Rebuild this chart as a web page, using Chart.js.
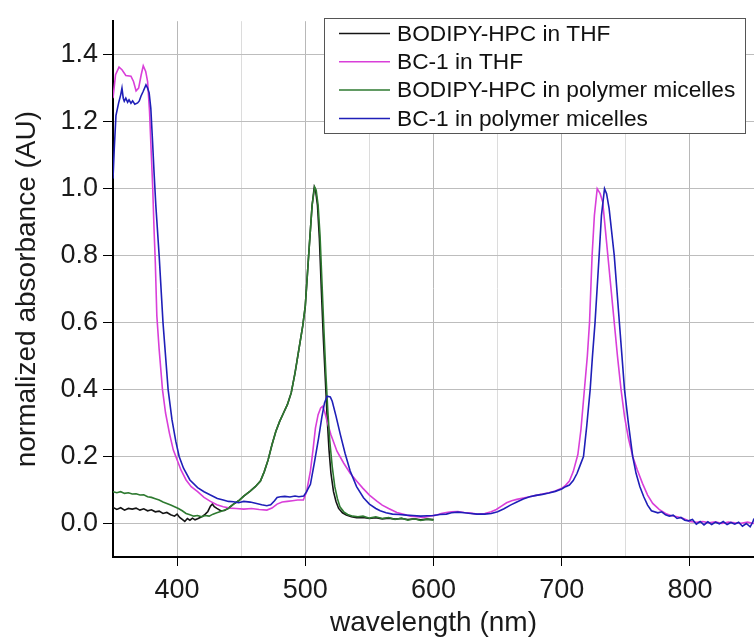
<!DOCTYPE html>
<html>
<head>
<meta charset="utf-8">
<script src="https://cdn.jsdelivr.net/npm/chart.js@4"></script>
<style>
  body { margin: 0; background: #fff; }
  canvas { display: block; }
</style>
</head>
<body>
<canvas id="spectra" width="754" height="639"></canvas>
<script>
// [wavelength nm, normalized absorbance]
const hpcThf = [
  [350, 0.048], [353, 0.042], [356, 0.047], [359, 0.040], [362, 0.045], [365, 0.043], [368, 0.046],
  [371, 0.040], [374, 0.044], [377, 0.038], [380, 0.041], [383, 0.035], [386, 0.037], [389, 0.030],
  [392, 0.033], [395, 0.026], [398, 0.022], [400, 0.028], [402, 0.018], [404, 0.012], [406, 0.006],
  [408, 0.015], [410, 0.010], [412, 0.016], [414, 0.011], [416, 0.014], [418, 0.018], [420, 0.022],
  [422, 0.028], [424, 0.036], [426, 0.052], [427.5, 0.058], [429, 0.050], [431, 0.045], [434, 0.038],
  [437, 0.039], [440, 0.046], [444, 0.058], [448, 0.068], [452, 0.082], [457, 0.097], [461, 0.110],
  [465, 0.127], [468, 0.155], [471, 0.190], [474, 0.235], [477, 0.275], [480, 0.305], [483, 0.330],
  [486, 0.355], [489, 0.390], [492, 0.450], [495, 0.520], [498, 0.590], [500, 0.650], [502.6, 0.800],
  [505.3, 0.950], [507, 1.005], [508, 0.995], [509.5, 0.950], [511, 0.850], [512.5, 0.700],
  [514, 0.560], [515.5, 0.440], [517, 0.320], [518.5, 0.220], [520, 0.150], [522, 0.095],
  [524, 0.065], [526, 0.045], [529, 0.032], [532, 0.025], [536, 0.020], [540, 0.017], [545, 0.018],
  [550, 0.015], [555, 0.017], [560, 0.014], [565, 0.016], [570, 0.013], [575, 0.015], [580, 0.012],
  [585, 0.014], [590, 0.011], [595, 0.013], [600, 0.012]
];

const bc1Thf = [
  [350, 1.270], [352, 1.340], [354.7, 1.363], [357, 1.355], [360, 1.338], [364, 1.336], [366, 1.320],
  [368, 1.292], [370, 1.300], [372, 1.340], [373.6, 1.367], [375.5, 1.350], [377, 1.320],
  [378.5, 1.230], [379.5, 1.137], [381, 1.000], [382, 0.880], [383, 0.780], [384.2, 0.620],
  [386, 0.520], [388.6, 0.400], [391, 0.330], [394, 0.270], [397, 0.220], [399, 0.200], [403, 0.160],
  [407, 0.130], [411, 0.110], [416, 0.095], [421, 0.078], [426, 0.066], [431, 0.056], [436, 0.050],
  [441, 0.046], [446, 0.045], [452, 0.043], [458, 0.045], [464, 0.042], [470, 0.040], [474, 0.046],
  [478, 0.058], [482, 0.064], [486, 0.066], [490, 0.068], [494, 0.070], [498.5, 0.070], [501, 0.095],
  [504, 0.157], [506, 0.220], [507.9, 0.285], [510, 0.325], [512, 0.345], [513.5, 0.350],
  [515, 0.335], [517, 0.305], [520, 0.265], [524.7, 0.216], [530, 0.180], [535, 0.150], [540, 0.127],
  [545, 0.105], [550, 0.085], [555.8, 0.067], [560, 0.055], [565, 0.045], [571.4, 0.033],
  [576, 0.028], [582, 0.022], [587, 0.020], [592, 0.018], [597, 0.022], [602, 0.025], [606, 0.030],
  [610, 0.033], [614, 0.035], [619, 0.036], [624, 0.033], [629, 0.031], [634, 0.028], [640, 0.030],
  [645, 0.035], [649, 0.042], [653, 0.052], [657, 0.062], [661, 0.068], [665, 0.072], [670, 0.076],
  [675, 0.080], [680, 0.084], [685, 0.088], [690, 0.092], [695, 0.097], [700, 0.105], [703, 0.114],
  [706, 0.127], [709, 0.155], [712.6, 0.206], [715, 0.280], [717.8, 0.404], [720, 0.500],
  [721.7, 0.600], [723.7, 0.800], [725.5, 0.920], [727.7, 1.000], [730, 0.985], [732, 0.960],
  [734, 0.880], [736, 0.800], [738.5, 0.700], [741, 0.600], [743.5, 0.500], [746.3, 0.400],
  [749, 0.320], [752, 0.255], [755.4, 0.200], [759, 0.160], [763, 0.120], [767, 0.085],
  [771, 0.060], [776, 0.042], [781, 0.030], [785, 0.024], [790, 0.020], [795, 0.015], [800, 0.006],
  [805, 0.004], [810, 0.006], [815, 0.002], [820, 0.005], [825, 0.000], [830, 0.004], [835, 0.002],
  [840, 0.001], [845, 0.004], [850, 0.000]
];

const hpcMicelles = [
  [350, 0.095], [353, 0.092], [356, 0.095], [359, 0.090], [362, 0.092], [365, 0.088], [368, 0.089],
  [371, 0.085], [374, 0.086], [377, 0.080], [380, 0.078], [383, 0.074], [386, 0.070], [389, 0.064],
  [392, 0.060], [395, 0.055], [398, 0.050], [401, 0.045], [404, 0.038], [407, 0.030], [410, 0.026],
  [413, 0.022], [416, 0.024], [419, 0.020], [422, 0.024], [425, 0.022], [428, 0.028], [431, 0.032],
  [434, 0.036], [437, 0.040], [440, 0.045], [444, 0.058], [448, 0.068], [452, 0.082], [457, 0.097],
  [461, 0.110], [465, 0.127], [468, 0.155], [471, 0.190], [474, 0.235], [477, 0.275], [480, 0.305],
  [483, 0.330], [486, 0.355], [489, 0.390], [492, 0.450], [495, 0.520], [498, 0.590], [500, 0.650],
  [502.6, 0.800], [505.3, 0.950], [507.3, 1.005], [508.5, 0.995], [510, 0.950], [511.5, 0.860],
  [513, 0.720], [514.5, 0.580], [516, 0.450], [517.5, 0.340], [519, 0.250], [521, 0.170],
  [523, 0.110], [525, 0.075], [527, 0.050], [530, 0.035], [533, 0.027], [537, 0.022], [541, 0.020],
  [545, 0.022], [550, 0.016], [555, 0.020], [560, 0.015], [565, 0.018], [570, 0.012], [575, 0.016],
  [580, 0.010], [585, 0.014], [590, 0.009], [595, 0.013], [600, 0.010]
];

const bc1Micelles = [
  [350, 1.030], [351, 1.120], [352.3, 1.218], [354.4, 1.256], [356, 1.280], [357, 1.300],
  [358, 1.270], [358.8, 1.261], [360, 1.270], [361.4, 1.258], [362.5, 1.265], [364, 1.255],
  [365.3, 1.262], [367, 1.252], [369.2, 1.256], [370.5, 1.262], [371.8, 1.276], [373.5, 1.290],
  [375.7, 1.310], [377, 1.300], [378.2, 1.286], [379.5, 1.240], [380.9, 1.137], [382, 1.050],
  [383.4, 0.950], [386, 0.800], [389, 0.600], [393, 0.400], [396, 0.310], [399, 0.245],
  [401.6, 0.200], [405, 0.165], [410, 0.130], [416, 0.107], [421, 0.095], [426, 0.085],
  [431.4, 0.075], [436, 0.070], [440, 0.066], [444, 0.065], [448, 0.062], [452, 0.066], [457, 0.064],
  [462, 0.060], [466, 0.056], [470, 0.053], [473, 0.056], [476, 0.068], [478, 0.078], [480.6, 0.080],
  [484, 0.081], [488, 0.079], [492, 0.082], [495, 0.080], [498.8, 0.082], [501, 0.095], [504, 0.117],
  [507, 0.180], [510.4, 0.256], [513, 0.320], [515, 0.360], [517, 0.380], [519.5, 0.378],
  [521, 0.365], [524, 0.320], [527.3, 0.266], [531, 0.210], [535, 0.157], [540, 0.110],
  [545.4, 0.077], [550, 0.058], [555, 0.045], [558.4, 0.038], [563, 0.032], [568, 0.028],
  [573, 0.027], [579, 0.025], [584, 0.024], [590, 0.022], [595, 0.023], [600, 0.024], [605, 0.027],
  [610, 0.028], [614, 0.032], [619, 0.034], [624, 0.032], [629, 0.030], [634, 0.028], [640, 0.028],
  [645, 0.030], [650, 0.035], [655, 0.044], [660, 0.055], [665, 0.064], [670, 0.073], [675, 0.080],
  [680, 0.084], [685, 0.087], [690, 0.091], [695, 0.096], [700, 0.103], [703, 0.110], [706, 0.115],
  [709, 0.128], [712, 0.150], [714.5, 0.175], [717, 0.200], [719.5, 0.290], [722.2, 0.400],
  [724, 0.500], [726, 0.600], [729.2, 0.800], [731, 0.920], [733.4, 1.000], [735, 0.985],
  [737, 0.940], [739, 0.870], [741, 0.800], [743, 0.700], [745, 0.600], [747, 0.500], [749, 0.400],
  [752, 0.300], [755.4, 0.200], [758, 0.150], [761, 0.110], [764, 0.080], [767, 0.055], [770, 0.038],
  [775, 0.032], [778, 0.035], [781, 0.026], [784, 0.022], [787, 0.025], [790, 0.015], [793, 0.018],
  [796, 0.010], [799, 0.008], [802, 0.012], [805, -0.002], [808, 0.006], [811, -0.004], [814, 0.005],
  [817, -0.003], [820, 0.004], [823, -0.001], [826, 0.006], [829, -0.003], [832, 0.003],
  [835, -0.002], [838, 0.004], [841, -0.008], [844, 0.000], [847, -0.010], [849, 0.004], [850, 0.015]
];

const seriesNames = ['BODIPY-HPC in THF', 'BC-1 in THF', 'BODIPY-HPC in polymer micelles', 'BC-1 in polymer micelles'];
const seriesColors = ['#141414', '#d93fd9', '#2e7a30', '#1f1fb8'];
const xTicks = [400, 450, 500, 550, 600, 650, 700, 750, 800];
const yTicks = [0.0, 0.2, 0.4, 0.6, 0.8, 1.0, 1.2, 1.4];

const FONT = '"Liberation Sans", Arial, sans-serif';
const allSeries = [hpcThf, bc1Thf, hpcMicelles, bc1Micelles];

// legend box drawn inside the plot, top right
const boxLegend = {
  id: 'boxLegend',
  afterDraw(chart) {
    const ctx = chart.ctx;
    const x0 = 324, y0 = 18, w = 421, h = 115;
    ctx.save();
    ctx.fillStyle = '#fff';
    ctx.fillRect(x0, y0, w, h);
    ctx.strokeStyle = '#555';
    ctx.lineWidth = 1;
    ctx.strokeRect(x0 + 0.5, y0 + 0.5, w, h);
    ctx.font = '22.7px ' + FONT;
    ctx.textBaseline = 'middle';
    seriesNames.forEach((name, i) => {
      const y = y0 + 15.5 + i * 28.3;
      ctx.strokeStyle = seriesColors[i];
      ctx.lineWidth = 1.5;
      ctx.beginPath();
      ctx.moveTo(339, y);
      ctx.lineTo(390, y);
      ctx.stroke();
      ctx.fillStyle = '#111';
      ctx.fillText(name, 397, y + 1);
    });
    ctx.restore();
  }
};

new Chart(document.getElementById('spectra'), {
  type: 'line',
  data: {
    datasets: allSeries.map((s, i) => ({
      label: seriesNames[i],
      data: s.map(p => ({ x: p[0], y: p[1] })),
      borderColor: seriesColors[i],
      borderWidth: 1.6,
      pointRadius: 0,
      tension: 0,
      fill: false,
      order: 4 - i
    }))
  },
  options: {
    responsive: false,
    animation: false,
    layout: { padding: { top: 17, right: 0, left: 0, bottom: 0 } },
    plugins: {
      legend: { display: false },
      tooltip: { enabled: false }
    },
    scales: {
      x: {
        type: 'linear',
        min: 350,
        max: 850,
        afterBuildTicks: s => { s.ticks = xTicks.map(v => ({ value: v })); },
        afterFit: s => { s.height = 82; },
        border: { color: '#000', width: 2 },
        grid: {
          color: c => (c.tick && c.tick.value % 100 === 0) ? '#b8b8b8' : '#dcdcdc',
          tickColor: c => (c.tick && c.tick.value % 100 === 0) ? '#000' : 'rgba(0,0,0,0)',
          tickLength: 9,
          lineWidth: 1
        },
        ticks: {
          color: '#1a1a1a',
          font: { family: FONT, size: 27 },
          padding: 8,
          maxRotation: 0,
          autoSkip: false,
          callback: v => (v % 100 === 0 ? String(v) : '')
        },
        title: {
          display: true,
          text: 'wavelength (nm)',
          color: '#1a1a1a',
          font: { family: FONT, size: 28, lineHeight: 1.1 },
          padding: { top: 0, bottom: 0 }
        }
      },
      y: {
        min: -0.1,
        max: 1.5,
        afterBuildTicks: s => { s.ticks = yTicks.map(v => ({ value: v })); },
        afterFit: s => { s.width = 113; },
        border: { color: '#000', width: 2 },
        grid: {
          color: '#bdbdbd',
          tickColor: '#000',
          tickLength: 10,
          lineWidth: 1
        },
        ticks: {
          color: '#1a1a1a',
          font: { family: FONT, size: 27 },
          padding: 5,
          callback: v => v.toFixed(1)
        },
        title: {
          display: true,
          text: 'normalized absorbance (AU)',
          color: '#1a1a1a',
          font: { family: FONT, size: 28 },
          padding: { top: 10, bottom: 0 }
        }
      }
    }
  },
  plugins: [boxLegend]
});
</script>
</body>
</html>
